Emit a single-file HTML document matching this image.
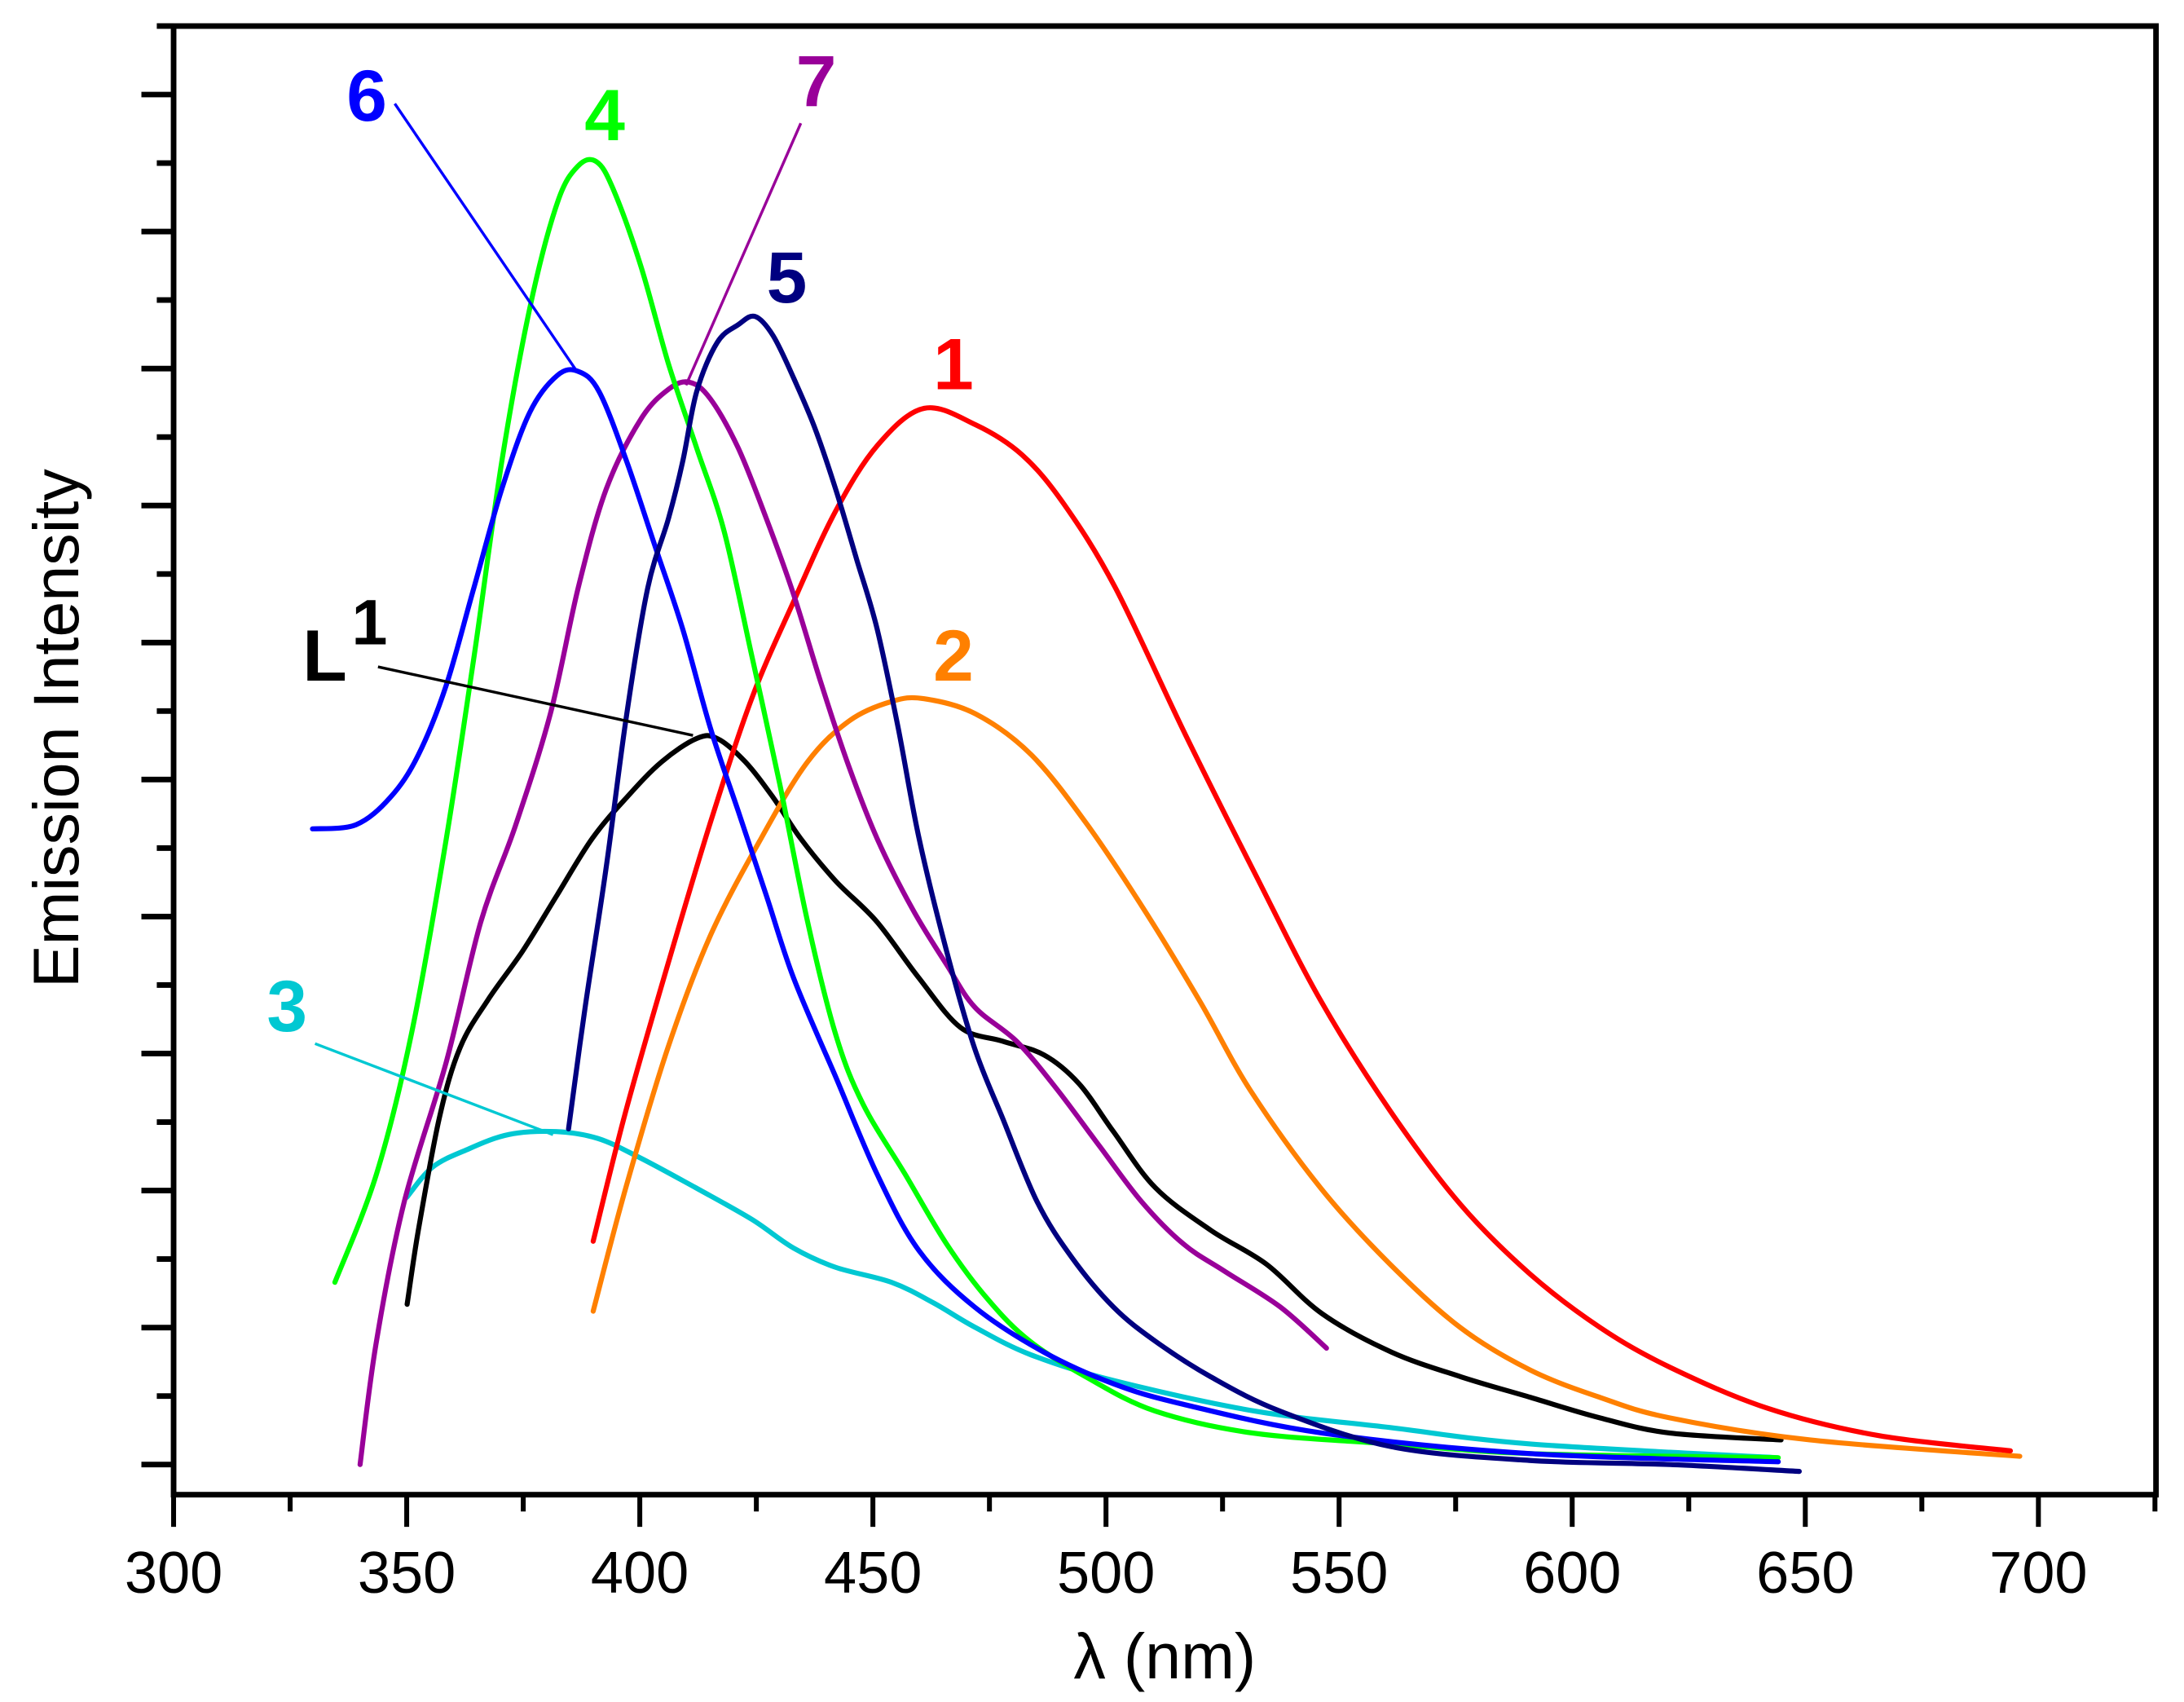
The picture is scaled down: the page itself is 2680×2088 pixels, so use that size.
<!DOCTYPE html>
<html><head><meta charset="utf-8"><style>html,body{margin:0;padding:0;background:#fff}svg{display:block}</style></head>
<body>
<svg id="chart" width="2680" height="2088" viewBox="0 0 1560 1215" preserveAspectRatio="none" xmlns="http://www.w3.org/2000/svg" font-family="'Liberation Sans', Arial, sans-serif">
<g id="plot"></g>
</svg>
<script>
const xTicks = [300,350,400,450,500,550,600,650,700];
const yMajorTicks = [0,1,2,3,4,5,6,7,8,9,10];
const s1x = [390,397,406,415,424,433,442,451,461,472,482,491,502,517,532,546,561,576,591,606,621,642,666,694];
const s1y = [1.63,2.58,3.65,4.67,5.59,6.30,6.96,7.44,7.71,7.59,7.37,7.01,6.40,5.33,4.31,3.39,2.58,1.90,1.39,1.00,0.71,0.41,0.21,0.10];
const s2x = [390,397,406,415,426,436,445,454,461,472,484,496,508,520,531,546,561,576,591,606,621,651,696];
const s2y = [1.12,2.02,3.04,3.85,4.57,5.13,5.43,5.57,5.59,5.48,5.18,4.67,4.06,3.39,2.73,2.02,1.46,1.00,0.69,0.49,0.34,0.18,0.06];
const s3x = [350,355.5,363,372,382,391,400,412,424,433,442,454,463,472,484,502,532,561,591,644];
const s3y = [1.95,2.17,2.30,2.41,2.43,2.38,2.24,2.02,1.79,1.58,1.44,1.33,1.18,1.00,0.80,0.61,0.39,0.27,0.15,0.05];
const s4x = [334.6,343.5,351,358.5,364.4,370.4,376.4,382.3,386.8,390.7,394.3,400.2,406.2,412.2,418.1,424.1,430,436,442,447.9,456.9,465.8,474.8,483.7,495.7,510.6,531.5,561.3,591.1,644.2];
const s4y = [1.33,2.12,3.14,4.57,5.89,7.32,8.44,9.21,9.48,9.51,9.31,8.75,8.03,7.42,6.81,5.89,4.97,3.96,3.14,2.63,2.12,1.61,1.20,0.90,0.64,0.39,0.23,0.15,0.08,0.05];
const s5x = [384.7,388.3,392.8,397.2,401.7,406.2,409.2,412.2,416.6,421.1,424.7,428.6,433,437.5,442,446.5,450.9,455.4,459.9,465.8,471.8,477.8,485.2,492.7,501.6,510.6,522.5,537.4,561.3,591.1,621,648.7];
const s5y = [2.45,3.34,4.36,5.48,6.40,6.91,7.32,7.83,8.19,8.32,8.38,8.24,7.93,7.57,7.12,6.61,6.10,5.38,4.57,3.75,3.04,2.53,1.92,1.51,1.15,0.90,0.64,0.39,0.13,0.03,0,-0.05];
const s6x = [329.8,339.1,346.5,352.5,358.5,364.4,370.4,376.4,382.3,386.8,391.3,397.2,403.2,409.2,415.1,421.1,427.1,433,442,450.9,459.9,471.8,486.7,501.6,516.6,546.4,591.1,644.2];
const s6y = [4.64,4.67,4.87,5.18,5.69,6.40,7.12,7.68,7.95,7.98,7.83,7.32,6.71,6.10,5.38,4.77,4.16,3.55,2.83,2.12,1.56,1.15,0.82,0.59,0.44,0.23,0.08,0.02];
const s7x = [340,343.5,349.5,358.5,365.9,373.4,380.8,386.8,392.8,400.2,406.2,410.7,415.1,421.1,427.1,433,439,445,450.9,458.4,465.8,471.8,480.8,489.7,498.7,507.6,516.6,525.5,537.4,547.3];
const s7y = [0,0.90,1.92,2.94,3.96,4.67,5.48,6.40,7.12,7.63,7.85,7.90,7.78,7.42,6.91,6.35,5.69,5.08,4.57,4.06,3.65,3.34,3.09,2.73,2.32,1.92,1.61,1.41,1.15,0.85];
const sLx = [350.1,352.5,357,361.4,367.4,374.9,382.3,389.8,397.2,404.7,412.2,416.6,422.6,428.6,434.5,442,450.9,459.9,468.8,477.8,486.7,494.2,501.6,510.6,522.5,534.5,546.4,561.3,576.2,591.1,606,621,644.8];
const sLy = [1.17,1.71,2.53,3.04,3.39,3.75,4.16,4.57,4.87,5.13,5.30,5.30,5.13,4.87,4.57,4.26,3.96,3.55,3.19,3.09,2.99,2.78,2.43,2.02,1.71,1.46,1.10,0.82,0.64,0.49,0.34,0.23,0.18];

const NS='http://www.w3.org/2000/svg';
const g=document.getElementById('plot');
const L=124,R=1540,T=18.6,B=1067;
const X=v=>124+(v-300)*3.33;
const Y=v=>1045.5-v*97.8;
function mk(tag,attrs,parent){const e=document.createElementNS(NS,tag);for(const k in attrs)e.setAttribute(k,attrs[k]);(parent||g).appendChild(e);return e;}
function smooth(xs,ys){
  const P=xs.map((x,i)=>[X(x),Y(ys[i])]);
  let d='M'+P[0][0].toFixed(1)+','+P[0][1].toFixed(1);
  for(let i=0;i<P.length-1;i++){
    const p0=P[Math.max(0,i-1)],p1=P[i],p2=P[i+1],p3=P[Math.min(P.length-1,i+2)];
    const c1=[p1[0]+(p2[0]-p0[0])/6,p1[1]+(p2[1]-p0[1])/6];
    const c2=[p2[0]-(p3[0]-p1[0])/6,p2[1]-(p3[1]-p1[1])/6];
    d+='C'+c1[0].toFixed(1)+','+c1[1].toFixed(1)+' '+c2[0].toFixed(1)+','+c2[1].toFixed(1)+' '+p2[0].toFixed(1)+','+p2[1].toFixed(1);
  }
  return d;
}

const frame=mk('rect',{x:L,y:T,width:R-L,height:B-T,fill:'none',stroke:'#000','stroke-width':4});



for(let i=0;i<xTicks.length;i++){
  const t=xTicks[i];
  const tk=mk('line',{x1:X(t),x2:X(t),y1:B,y2:B+23,stroke:'#000','stroke-width':3.5});
  
  
  const tx=mk('text',{x:X(t),y:B+70,'font-size':42,'text-anchor':'middle',fill:'#000'});
  tx.textContent=t;
  
  
  const m=t+25;
  if(X(m)<=R+1){
    const mt=mk('line',{x1:X(m),x2:X(m),y1:B,y2:B+12,stroke:'#000','stroke-width':3.5});
    
    
  }
}
for(let i=0;i<yMajorTicks.length;i++){
  const v=yMajorTicks[i];
  const tk=mk('line',{x1:L-23,x2:L,y1:Y(v),y2:Y(v),stroke:'#000','stroke-width':4});
  
  
  const mv=v+0.5;
  if(Y(mv)>T){
    const mt=mk('line',{x1:L-12,x2:L,y1:Y(mv),y2:Y(mv),stroke:'#000','stroke-width':4});
    
    
  }
}
const xt=mk('text',{x:832,y:1198,'font-size':46,'text-anchor':'middle',fill:'#000'});
xt.textContent='λ (nm)';


const yt=mk('text',{x:56,y:520,'font-size':46,'text-anchor':'middle',fill:'#000',transform:'rotate(-90 56 520)'});
yt.textContent='Emission Intensity';



const series=[
 ['series-3',s3x,s3y,'#00c8d2'],
 ['series-L1',sLx,sLy,'#000000'],
 ['series-2',s2x,s2y,'#ff8000'],
 ['series-1',s1x,s1y,'#ff0000'],
 ['series-7',s7x,s7y,'#990099'],
 ['series-4',s4x,s4y,'#00ff00'],
 ['series-6',s6x,s6y,'#0000ff'],
 ['series-5',s5x,s5y,'#000080']
];
for(const [name,xs,ys,col] of series){
  const p=mk('path',{d:smooth(xs,ys),fill:'none',stroke:col,'stroke-width':3.6,'stroke-linejoin':'round','stroke-linecap':'round'});
  
  
}
const labels=[
 ['label-6','6',262,86,'#0000ff',[282,74,412,265]],
 ['label-4','4',432,100,'#00ff00',null],
 ['label-7','7',583,76,'#990099',[572,88,490,275]],
 ['label-5','5',562,216,'#000080',null],
 ['label-1','1',681,278,'#ff0000',null],
 ['label-2','2',681,486,'#ff8000',null],
 ['label-3','3',205,736,'#00c8d2',[225,745,395,810]]
];
for(const [name,txt,x,y,col,ln] of labels){
  if(ln){
    const l=mk('line',{x1:ln[0],y1:ln[1],x2:ln[2],y2:ln[3],stroke:col,'stroke-width':2});
    
    
  }
  const t=mk('text',{x:x,y:y,'font-size':52,'font-weight':'bold','text-anchor':'middle',fill:col});
  t.textContent=txt;
  
  
}
const ll=mk('line',{x1:270,y1:476,x2:495,y2:525,stroke:'#000','stroke-width':2});


const lt=mk('text',{x:232,y:486,'font-size':52,'font-weight':'bold','text-anchor':'middle',fill:'#000'});
lt.textContent='L';


const ls=mk('text',{x:264,y:460,'font-size':46,'font-weight':'bold','text-anchor':'middle',fill:'#000'});
ls.textContent='1';


</script>
</body></html>
